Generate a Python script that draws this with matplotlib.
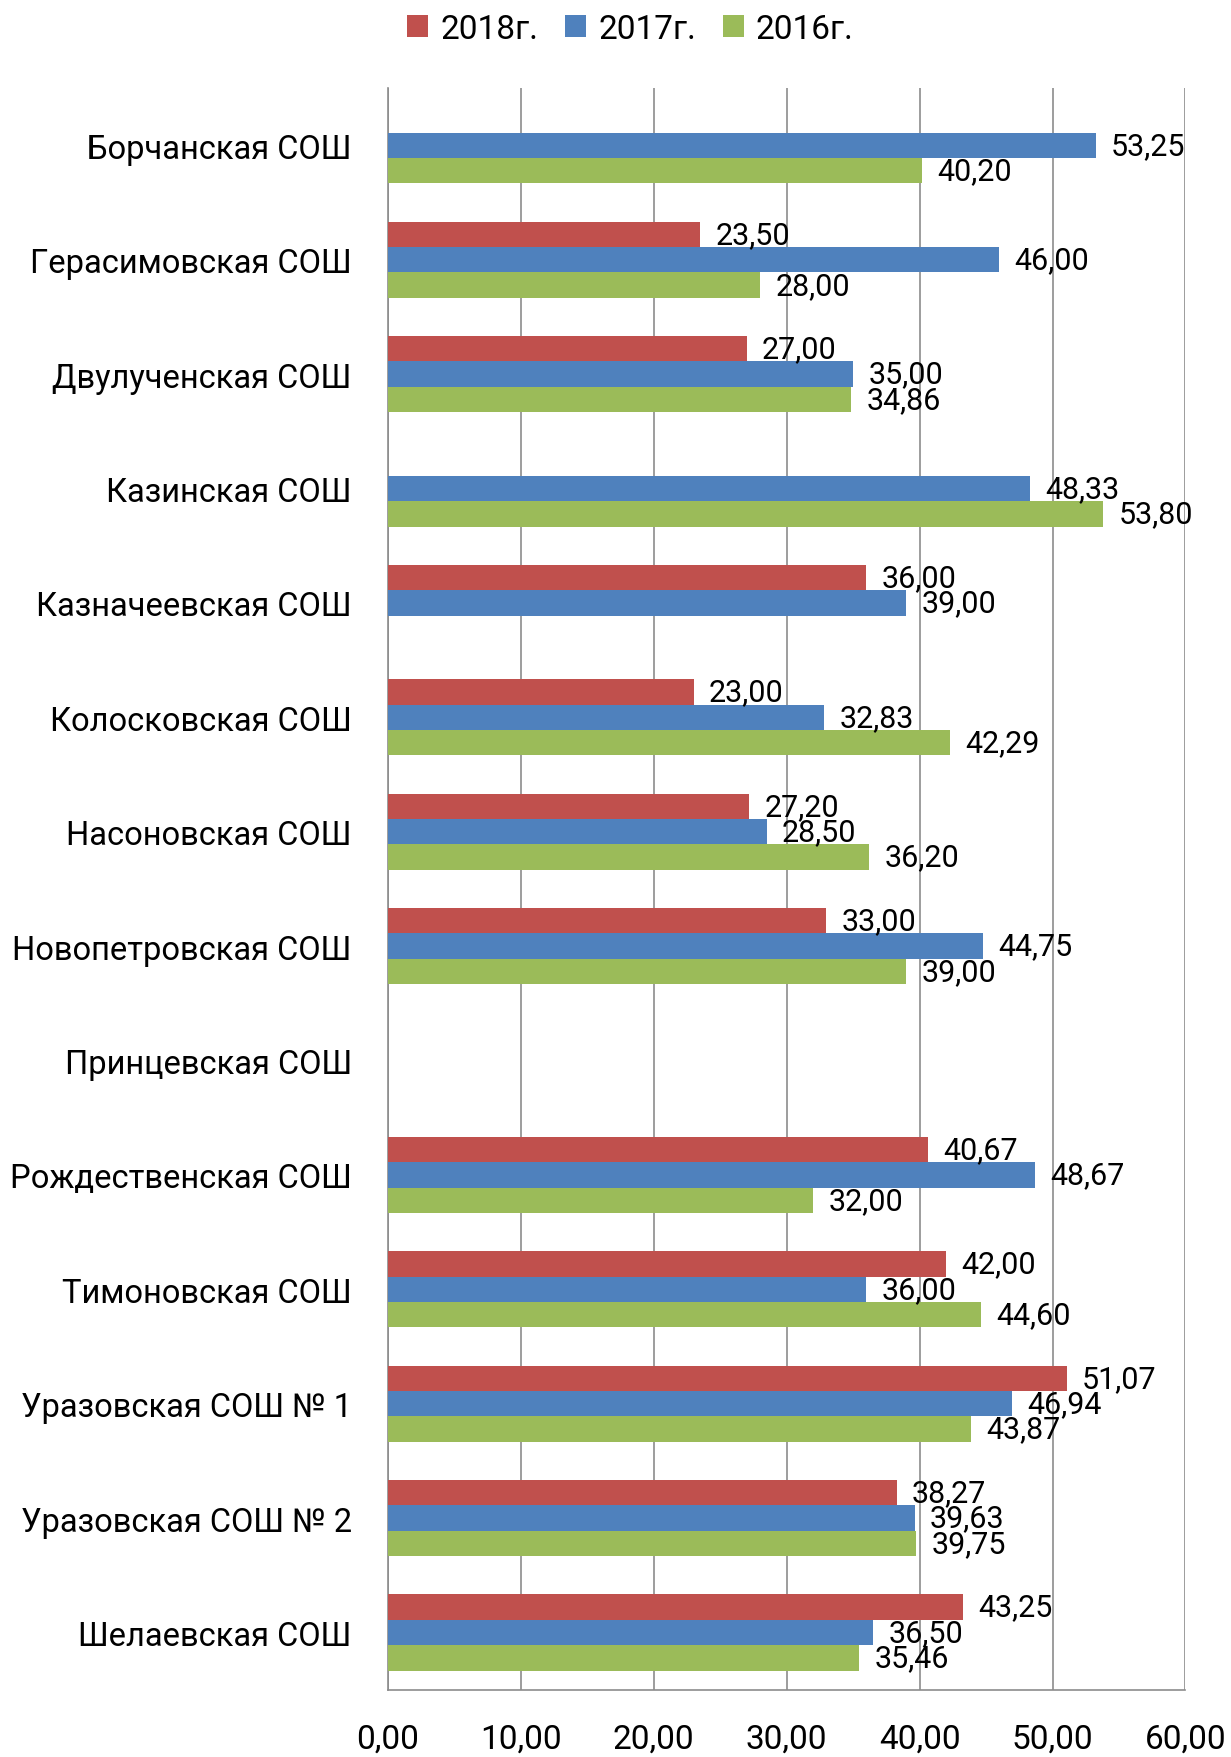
import matplotlib
matplotlib.use("Agg")
import matplotlib.pyplot as plt
import numpy as np

plt.rcParams['font.family'] = ['Roboto', 'Open Sans', 'DejaVu Sans']

schools = ["Борчанская СОШ", "Герасимовская СОШ", "Двулученская СОШ", "Казинская СОШ",
           "Казначеевская СОШ", "Колосковская СОШ", "Насоновская СОШ", "Новопетровская СОШ",
           "Принцевская СОШ", "Рождественская СОШ", "Тимоновская СОШ", "Уразовская СОШ № 1",
           "Уразовская СОШ № 2", "Шелаевская СОШ"]

# None = no data for that year
y2018 = [None, 23.50, 27.00, None, 36.00, 23.00, 27.20, 33.00, None, 40.67, 42.00, 51.07, 38.27, 43.25]
y2017 = [53.25, 46.00, 35.00, 48.33, 39.00, 32.83, 28.50, 44.75, None, 48.67, 36.00, 46.94, 39.63, 36.50]
y2016 = [40.20, 28.00, 34.86, 53.80, None, 42.29, 36.20, 39.00, None, 32.00, 44.60, 43.87, 39.75, 35.46]

series = [("2018г.", y2018, "#C0504D", -1),
          ("2017г.", y2017, "#4F81BD", 0),
          ("2016г.", y2016, "#9BBB59", 1)]

fig = plt.figure(figsize=(12.31, 17.58), dpi=100)
ax = fig.add_axes([0.315, 0.0383, 0.648, 0.911])

h = 1 / 4.5
pos = np.arange(len(schools))
for name, vals, col, k in series:
    for i, v in enumerate(vals):
        if v is None:
            continue
        ax.barh(pos[i] + k * h, v, height=h, color=col, zorder=3)
        ax.annotate(f"{v:.2f}".replace(".", ","), (v, pos[i] + k * h),
                    xytext=(11, 0), textcoords="offset points",
                    va="center", ha="left", fontsize=22, zorder=4)
    ax.barh(np.nan, 0, color=col, label=name)

ax.set_ylim(len(schools) - 0.5, -0.5)
ax.set_xlim(0, 60)
ax.set_yticks(pos)
ax.set_yticklabels(schools, fontsize=23.5)
ax.set_xticks(np.arange(0, 61, 10))
ax.set_xticklabels([f"{t:.2f}".replace(".", ",") for t in np.arange(0, 61, 10)], fontsize=24)
ax.tick_params(axis="y", length=0, pad=26)
ax.tick_params(axis="x", length=0, pad=24)
ax.grid(axis="x", color="#8c8c8c", linewidth=1.2, zorder=0)
for s in ["top", "right"]:
    ax.spines[s].set_visible(False)
for s in ["left", "bottom"]:
    ax.spines[s].set_color("#8c8c8c")
    ax.spines[s].set_linewidth(1.2)

fig.legend(loc="center", bbox_to_anchor=(0.512, 0.983), ncol=3, frameon=False,
           fontsize=24, handlelength=0.65, handleheight=0.65, handletextpad=0.35,
           columnspacing=0.8)

fig.savefig("out.png", dpi=100)
